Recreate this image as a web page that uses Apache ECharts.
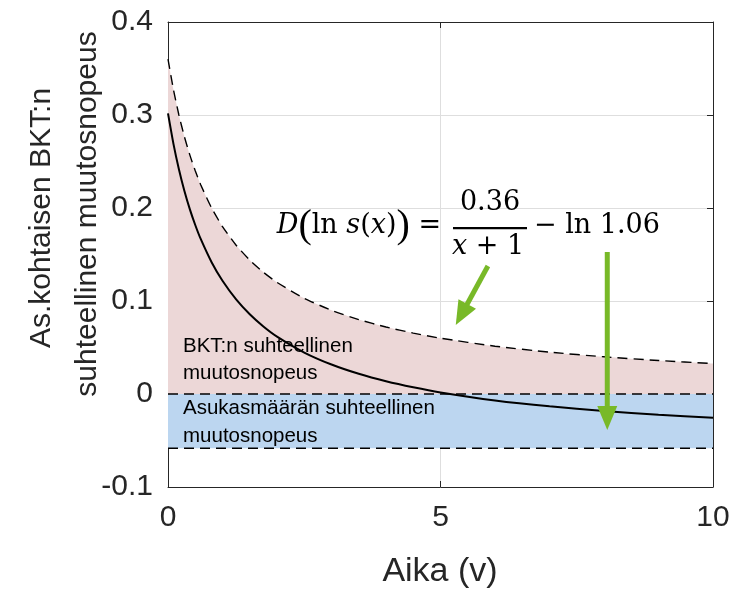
<!DOCTYPE html>
<html>
<head>
<meta charset="utf-8">
<script src="https://cdn.jsdelivr.net/npm/echarts@6/dist/echarts.min.js"></script>
<style>html,body{margin:0;padding:0;background:#fff;}#c{width:745px;height:591px;}</style>
</head>
<body>
<div id="c"></div>
<script>
// ---- data ----
var xTicks = [0, 5, 10];
var yTicks = [-0.1, 0, 0.1, 0.2, 0.3, 0.4];
var timeX = [0, 0.1, 0.2, 0.3, 0.4, 0.5, 0.6, 0.8, 1, 1.25, 1.5, 1.75, 2, 2.5, 3, 3.5, 4, 4.5, 5, 6, 7, 8, 9, 10];
// upper dashed curve (BKT:n suhteellinen muutosnopeus)
var gdpRate = [0.36, 0.3273, 0.3, 0.2769, 0.2571, 0.24, 0.225, 0.2, 0.18, 0.16, 0.144, 0.1309, 0.12, 0.1029, 0.09, 0.08, 0.072, 0.0655, 0.06, 0.0514, 0.045, 0.04, 0.036, 0.0327];
// solid curve (as. kohtaisen BKT:n suhteellinen muutosnopeus)
var perCapitaRate = [0.3017, 0.269, 0.2417, 0.2186, 0.1988, 0.1817, 0.1667, 0.1417, 0.1217, 0.1017, 0.0857, 0.0726, 0.0617, 0.0446, 0.0317, 0.0217, 0.0137, 0.0072, 0.0017, -0.0069, -0.0133, -0.0183, -0.0223, -0.0256];
// population growth band
var popX = [0, 10];
var popRate = [-0.0583, -0.0583];
var zeroLine = [0, 0];
// arrow annotations [x0, y0, x1, y1]
var arrow1 = [5.87, 0.1376, 5.28, 0.0742];
var arrow2 = [8.06, 0.1527, 8.06, -0.0387];

function pairs(xs, ys) { return xs.map(function (x, i) { return [x, ys[i]]; }); }

var chart = echarts.init(document.getElementById('c'), null, { renderer: 'canvas' });
var axisColor = '#262626';
var green = '#78b928';
var sans = 'Liberation Sans, Arial, sans-serif';
var serif = 'DejaVu Serif, serif';

function baseX(pos, showLabel) {
  return {
    type: 'value', position: pos, min: 0, max: 10, interval: 5,
    axisLine: { show: true, onZero: false, lineStyle: { color: axisColor, width: 1 } },
    axisTick: { show: true, inside: true, length: 6, lineStyle: { color: axisColor } },
    axisLabel: { show: showLabel, fontFamily: sans, fontSize: 30, color: axisColor, margin: 16,
      formatter: function (v) { return xTicks.indexOf(v) >= 0 ? String(v) : ''; } },
    splitLine: { show: showLabel, lineStyle: { color: '#dedede', width: 1 } }
  };
}
function baseY(pos, showLabel) {
  return {
    type: 'value', position: pos, min: -0.1, max: 0.4, interval: 0.1,
    axisLine: { show: true, onZero: false, lineStyle: { color: axisColor, width: 1 } },
    axisTick: { show: true, inside: true, length: 6, lineStyle: { color: axisColor } },
    axisLabel: { show: showLabel, fontFamily: sans, fontSize: 30, color: axisColor, margin: 15,
      formatter: function (v) {
        var best = yTicks.reduce(function (a, b) { return Math.abs(b - v) < Math.abs(a - v) ? b : a; });
        return String(best);
      } },
    splitLine: { show: showLabel, lineStyle: { color: '#dedede', width: 1 } }
  };
}

var dash = { type: [10, 6], color: '#000', width: 1.4 };

function renderArrow(params, api) {
  var p0 = api.coord([api.value(0), api.value(1)]);
  var p1 = api.coord([api.value(2), api.value(3)]);
  var dx = p1[0] - p0[0], dy = p1[1] - p0[1];
  var len = Math.sqrt(dx * dx + dy * dy);
  var ux = dx / len, uy = dy / len;
  var headLen = 24, headHalf = 10;
  var bx = p1[0] - ux * headLen, by = p1[1] - uy * headLen;
  var nx = -uy, ny = ux;
  return {
    type: 'group',
    children: [
      { type: 'line', shape: { x1: p0[0], y1: p0[1], x2: bx + ux * 2, y2: by + uy * 2 },
        style: { stroke: green, lineWidth: 5 } },
      { type: 'polygon', shape: { points: [[p1[0], p1[1]], [bx + nx * headHalf, by + ny * headHalf], [bx - nx * headHalf, by - ny * headHalf]] },
        style: { fill: green } }
    ]
  };
}

chart.setOption({
  animation: false,
  backgroundColor: '#fff',
  grid: { left: 168, right: 32, top: 22, bottom: 104, containLabel: false },
  xAxis: [baseX('bottom', true), baseX('top', false)],
  yAxis: [baseY('left', true), baseY('right', false)],
  series: [
    { type: 'line', data: pairs(timeX, gdpRate), symbol: 'none', smooth: 0.2,
      lineStyle: { width: 0 }, areaStyle: { color: '#ecd7d7', opacity: 1, origin: 0 }, z: 1 },
    { type: 'line', data: pairs(popX, popRate), symbol: 'none',
      lineStyle: { width: 0 }, areaStyle: { color: '#bcd6f0', opacity: 1, origin: 0 }, z: 1 },
    { type: 'line', data: pairs(timeX, gdpRate), symbol: 'none', smooth: 0.2, lineStyle: dash, z: 3 },
    { type: 'line', data: pairs(popX, zeroLine), symbol: 'none', lineStyle: dash, z: 3 },
    { type: 'line', data: pairs(popX, popRate), symbol: 'none', lineStyle: dash, z: 3 },
    { type: 'line', data: pairs(timeX, perCapitaRate), symbol: 'none', smooth: 0.2,
      lineStyle: { color: '#000', width: 2 }, z: 4 },
    { type: 'custom', data: [arrow1, arrow2], renderItem: renderArrow, silent: true, z: 6,
      dimensions: ['x0', 'y0', 'x1', 'y1'], encode: { x: [0, 2], y: [1, 3] } }
  ],
  graphic: [
    // y-axis title (two lines)
    { type: 'text', x: 42, y: 218, rotation: Math.PI / 2,
      style: { text: 'As.kohtaisen BKT:n', font: '30px ' + sans, fill: axisColor, textAlign: 'center', textVerticalAlign: 'middle' } },
    { type: 'text', x: 88, y: 214, rotation: Math.PI / 2,
      style: { text: 'suhteellinen muutosnopeus', font: '30px ' + sans, fill: axisColor, textAlign: 'center', textVerticalAlign: 'middle' } },
    // x-axis title
    { type: 'text', x: 440, y: 572,
      style: { text: 'Aika (v)', font: '34px ' + sans, fill: axisColor, textAlign: 'center', textVerticalAlign: 'middle' } },
    // region labels
    { type: 'text', x: 183, y: 346, z: 10,
      style: { text: 'BKT:n suhteellinen', font: '20.5px ' + sans, fill: '#000', textAlign: 'left', textVerticalAlign: 'middle' } },
    { type: 'text', x: 183, y: 373, z: 10,
      style: { text: 'muutosnopeus', font: '20.5px ' + sans, fill: '#000', textAlign: 'left', textVerticalAlign: 'middle' } },
    { type: 'text', x: 183, y: 408, z: 10,
      style: { text: 'Asukasmäärän suhteellinen', font: '20.5px ' + sans, fill: '#000', textAlign: 'left', textVerticalAlign: 'middle' } },
    { type: 'text', x: 183, y: 436, z: 10,
      style: { text: 'muutosnopeus', font: '20.5px ' + sans, fill: '#000', textAlign: 'left', textVerticalAlign: 'middle' } },
    // formula
    { type: 'text', x: 441, y: 226, z: 10,
      style: { text: '{i|D}{p|(}ln {i|s}({i|x}){p|)} =', textAlign: 'right', textVerticalAlign: 'middle',
        font: '27px ' + serif, fill: '#000',
        rich: { i: { fontStyle: 'italic', fontFamily: serif, fontSize: 27, fill: '#000' },
                p: { fontFamily: 'Liberation Serif, serif', fontSize: 40, fill: '#000' } } } },
    { type: 'text', x: 490, y: 203, z: 10,
      style: { text: '0.36', font: '27px ' + serif, fill: '#000', textAlign: 'center', textVerticalAlign: 'middle' } },
    { type: 'rect', shape: { x: 453, y: 227, width: 74, height: 2.2 }, style: { fill: '#000' }, z: 10 },
    { type: 'text', x: 488, y: 247, z: 10,
      style: { text: '{i|x} + 1', textAlign: 'center', textVerticalAlign: 'middle', font: '27px ' + serif, fill: '#000',
        rich: { i: { fontStyle: 'italic', fontFamily: serif, fontSize: 27, fill: '#000' } } } },
    { type: 'text', x: 534, y: 226, z: 10,
      style: { text: '− ln 1.06', font: '27px ' + serif, fill: '#000', textAlign: 'left', textVerticalAlign: 'middle' } }
  ]
});
</script>
</body>
</html>
